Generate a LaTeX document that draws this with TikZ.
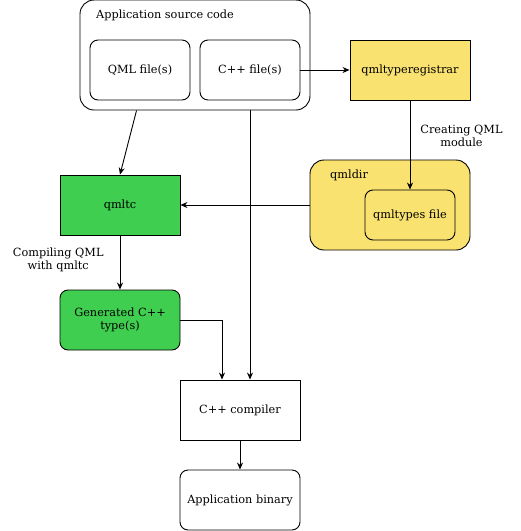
\documentclass[tikz,border=0pt]{standalone}
\usepackage{fontspec}
\setmainfont{DejaVu Serif}
\usepackage{pgf,tikz}
\usetikzlibrary{shapes, arrows.meta, positioning}
\definecolor{amarillo}{RGB}{249,226,112}
\definecolor{verde}{RGB}{64,206,80}
\tikzstyle{caja} = [draw=black, line width=0.9pt, rectangle, minimum width=120pt, minimum height=60pt, align=center, inner sep=2pt, font=\fontsize{11.3}{13.5}\selectfont]
\tikzstyle{redonda} = [caja, rounded corners=8pt]
\tikzstyle{flecha} = [-{Stealth[length=7pt,width=6pt]}, line width=0.9pt]
\tikzstyle{etiqueta} = [align=center, font=\fontsize{11.3}{13.5}\selectfont, inner sep=0pt]

\begin{document}
\begin{tikzpicture}[x=1pt, y=-1pt]
	\useasboundingbox (0,0) rectangle (521,531);
	% contenedores
	\node [redonda, minimum width=230pt, minimum height=110pt, rounded corners=14pt] (src) at (195,55) {};
	\node [etiqueta, anchor=west] (srclabel) at (96,15) {Application source code};
	\node [redonda, minimum width=100pt] (qml) at (140,70) {QML file(s)};
	\node [redonda, minimum width=100pt] (cpp) at (250,70) {C++ file(s)};
	\node [caja, fill=amarillo] (reg) at (410,70) {qmltyperegistrar};
	\node [redonda, fill=amarillo, minimum width=160pt, minimum height=90pt, rounded corners=14pt] (dir) at (390,205) {};
	\node [etiqueta, anchor=west] (dirlabel) at (330,175) {qmldir};
	\node [redonda, minimum width=90pt, minimum height=50pt] (types) at (410,215) {qmltypes file};
	\node [caja, fill=verde] (qmltc) at (120,205) {qmltc};
	\node [redonda, fill=verde] (gen) at (120,320) {Generated C++\\type(s)};
	\node [caja] (comp) at (240,410) {C++ compiler};
	\node [redonda] (bin) at (240,500) {Application binary};
	% conexiones
	\draw [flecha] (cpp.east) -- (reg.west);
	\draw [flecha] (reg.south) -- (types.north)
		node [etiqueta, pos=0.4, right=10pt] (lbl1) {Creating QML\\module};
	\draw [flecha] (dir.west) -- (qmltc.east);
	\draw [flecha] (src.south west) ++(57,0) coordinate (srcout) -- (qmltc.north);
	\draw [flecha] (qmltc.south) -- (gen.north)
		node [etiqueta, pos=0.45, left=16pt] (lbl2) {Compiling QML\\with qmltc};
	\draw [flecha] (gen.east) -| ([xshift=-18pt]comp.north);
	\draw [flecha] (src.south) ++(55,0) coordinate (srcdown) -- (srcdown |- comp.north);
	\draw [flecha] (comp.south) -- (bin.north);
\end{tikzpicture}
\end{document}
